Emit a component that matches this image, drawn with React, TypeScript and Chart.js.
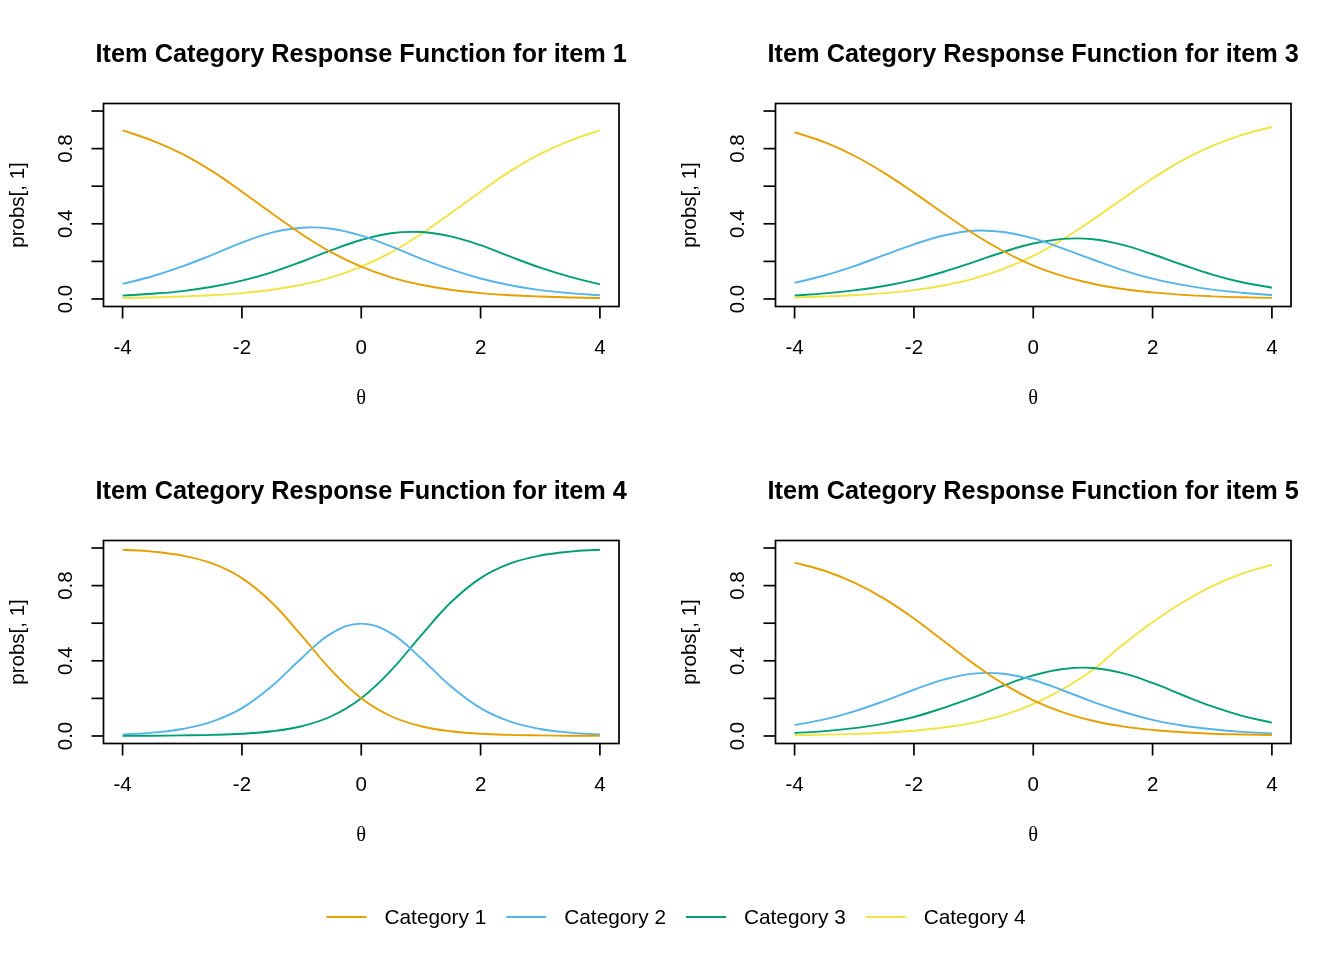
import React, { useEffect, useRef } from "react";
import { Chart, registerables } from "chart.js";

Chart.register(...registerables);

// ---------- data ----------
const theta = [-4, -3.5, -3, -2.5, -2, -1.5, -1, -0.5, 0, 0.5, 1, 1.5, 2, 2.5, 3, 3.5, 4];

const item1Cat1 = [0.897, 0.843, 0.772, 0.68, 0.571, 0.456, 0.345, 0.248, 0.172, 0.115, 0.076, 0.049, 0.031, 0.02, 0.013, 0.008, 0.005];
const item1Cat2 = [0.08, 0.121, 0.173, 0.235, 0.3, 0.353, 0.379, 0.374, 0.337, 0.28, 0.215, 0.157, 0.109, 0.073, 0.047, 0.031, 0.02];
const item1Cat3 = [0.018, 0.028, 0.042, 0.065, 0.098, 0.142, 0.198, 0.26, 0.314, 0.35, 0.356, 0.333, 0.286, 0.225, 0.167, 0.118, 0.078];
const item1Cat4 = [0.005, 0.008, 0.013, 0.02, 0.031, 0.049, 0.076, 0.115, 0.172, 0.248, 0.345, 0.456, 0.571, 0.68, 0.772, 0.843, 0.897];

const item3Cat1 = [0.887, 0.834, 0.762, 0.671, 0.566, 0.455, 0.347, 0.254, 0.178, 0.122, 0.081, 0.053, 0.035, 0.022, 0.014, 0.009, 0.006];
const item3Cat2 = [0.086, 0.125, 0.175, 0.233, 0.291, 0.338, 0.363, 0.356, 0.322, 0.268, 0.21, 0.154, 0.108, 0.075, 0.05, 0.033, 0.021];
const item3Cat3 = [0.019, 0.03, 0.046, 0.069, 0.102, 0.145, 0.196, 0.25, 0.295, 0.32, 0.318, 0.288, 0.238, 0.182, 0.13, 0.089, 0.06];
const item3Cat4 = [0.008, 0.013, 0.02, 0.031, 0.047, 0.072, 0.108, 0.16, 0.229, 0.318, 0.422, 0.533, 0.641, 0.737, 0.814, 0.873, 0.915];

const item4Cat1 = [0.991, 0.981, 0.96, 0.918, 0.84, 0.71, 0.534, 0.349, 0.201, 0.105, 0.052, 0.025, 0.012, 0.006, 0.003, 0.001, 0.001];
const item4Cat2 = [0.008, 0.018, 0.037, 0.076, 0.148, 0.265, 0.414, 0.546, 0.598, 0.546, 0.414, 0.265, 0.148, 0.076, 0.037, 0.018, 0.008];
const item4Cat3 = [0.001, 0.001, 0.003, 0.006, 0.012, 0.025, 0.052, 0.105, 0.201, 0.349, 0.534, 0.71, 0.84, 0.918, 0.96, 0.981, 0.991];

const item5Cat1 = [0.922, 0.879, 0.816, 0.731, 0.625, 0.505, 0.385, 0.277, 0.19, 0.126, 0.081, 0.051, 0.032, 0.02, 0.012, 0.008, 0.005];
const item5Cat2 = [0.058, 0.088, 0.131, 0.186, 0.246, 0.3, 0.332, 0.331, 0.298, 0.242, 0.182, 0.129, 0.086, 0.056, 0.036, 0.022, 0.014];
const item5Cat3 = [0.016, 0.026, 0.042, 0.066, 0.101, 0.15, 0.205, 0.268, 0.322, 0.356, 0.362, 0.334, 0.282, 0.218, 0.157, 0.107, 0.071];
const item5Cat4 = [0.004, 0.007, 0.011, 0.017, 0.028, 0.045, 0.071, 0.111, 0.17, 0.25, 0.352, 0.485, 0.605, 0.71, 0.797, 0.864, 0.911];

const panelTitles = [
  "Item Category Response Function for item 1",
  "Item Category Response Function for item 3",
  "Item Category Response Function for item 4",
  "Item Category Response Function for item 5",
];
const panelSeries = [
  [item1Cat1, item1Cat2, item1Cat3, item1Cat4],
  [item3Cat1, item3Cat2, item3Cat3, item3Cat4],
  [item4Cat1, item4Cat2, item4Cat3],
  [item5Cat1, item5Cat2, item5Cat3, item5Cat4],
];

const categoryLabels = ["Category 1", "Category 2", "Category 3", "Category 4"];
const categoryColors = ["#E69F00", "#56B4E9", "#009E73", "#F0E442"];

const xTicks = [-4, -2, 0, 2, 4];
const xTickLabels = ["-4", "-2", "0", "2", "4"];
const yTicks = [0, 0.2, 0.4, 0.6, 0.8, 1.0];
const yTickLabels = ["0.0", "", "0.4", "", "0.8", ""];
const xAxisTitle = "θ";
const yAxisTitle = "probs[, 1]";

// ---------- layout ----------
const PANEL_W = 672;
const PANEL_H = 437;
const SANS = '"Liberation Sans", Arial, Helvetica, sans-serif';
const SERIF = '"Liberation Serif", "DejaVu Serif", "Times New Roman", serif';

const rAxesPlugin = {
  id: "rAxes",
  afterDraw(chart: any, _args: any, opts: any) {
    const { ctx, chartArea: a, scales } = chart;
    const xs = scales.x;
    const ys = scales.y;
    ctx.save();
    ctx.strokeStyle = "#000";
    ctx.fillStyle = "#000";
    ctx.lineWidth = 1.7;
    // box
    ctx.strokeRect(a.left, a.top, a.right - a.left, a.bottom - a.top);
    // x axis ticks
    ctx.font = `20.5px ${SANS}`;
    ctx.textAlign = "center";
    ctx.textBaseline = "middle";
    xTicks.forEach((v, i) => {
      const px = xs.getPixelForValue(v);
      ctx.beginPath();
      ctx.moveTo(px, a.bottom);
      ctx.lineTo(px, a.bottom + 12);
      ctx.stroke();
      ctx.fillText(xTickLabels[i], px, a.bottom + 42);
    });
    // y axis ticks
    yTicks.forEach((v, i) => {
      const py = ys.getPixelForValue(v);
      ctx.beginPath();
      ctx.moveTo(a.left, py);
      ctx.lineTo(a.left - 12, py);
      ctx.stroke();
      if (yTickLabels[i]) {
        ctx.save();
        ctx.translate(a.left - 37, py);
        ctx.rotate(-Math.PI / 2);
        ctx.fillText(yTickLabels[i], 0, 0);
        ctx.restore();
      }
    });
    const cx = (a.left + a.right) / 2;
    const cy = (a.top + a.bottom) / 2;
    // title
    ctx.font = `bold 25.3px ${SANS}`;
    ctx.fillText(opts.title || "", cx, 55.5);
    // x title
    ctx.font = `20.5px ${SERIF}`;
    ctx.fillText(xAxisTitle, cx, a.bottom + 92);
    // y title
    ctx.font = `20.5px ${SANS}`;
    ctx.save();
    ctx.translate(18, cy);
    ctx.rotate(-Math.PI / 2);
    ctx.fillText(yAxisTitle, 0, 0);
    ctx.restore();
    ctx.restore();
  },
};

const legendPlugin = {
  id: "rLegend",
  afterDraw(chart: any) {
    const { ctx } = chart;
    const ds = chart.data.datasets;
    ctx.save();
    ctx.font = `20.8px ${SANS}`;
    ctx.textBaseline = "middle";
    ctx.textAlign = "left";
    const lineLen = 40;
    const gapText = 18;
    const gapItem = 20;
    const widths = ds.map((d: any) => ctx.measureText(d.label).width);
    const total =
      widths.reduce((s: number, w: number) => s + lineLen + gapText + w, 0) + gapItem * (ds.length - 1);
    let x = 676 - total / 2;
    const y = 47;
    ds.forEach((d: any, i: number) => {
      ctx.strokeStyle = d.borderColor;
      ctx.lineWidth = 2;
      ctx.beginPath();
      ctx.moveTo(x, y);
      ctx.lineTo(x + lineLen, y);
      ctx.stroke();
      ctx.fillStyle = "#000";
      ctx.fillText(d.label, x + lineLen + gapText, y + 1);
      x += lineLen + gapText + widths[i] + gapItem;
    });
    ctx.restore();
  },
};

function Panel({ index }: { index: number }) {
  const ref = useRef<HTMLCanvasElement | null>(null);
  useEffect(() => {
    if (!ref.current) return;
    const series = panelSeries[index];
    const chart = new Chart(ref.current, {
      type: "line",
      data: {
        datasets: series.map((vals, k) => ({
          label: categoryLabels[k],
          data: theta.map((t, j) => ({ x: t, y: vals[j] })),
          borderColor: categoryColors[k],
          backgroundColor: categoryColors[k],
          borderWidth: 1.9,
          pointRadius: 0,
          fill: false,
          tension: 0.4,
        })),
      },
      options: {
        responsive: false,
        animation: false,
        devicePixelRatio: 1,
        layout: { padding: { left: 103.5, right: 53, top: 103.5, bottom: 130.5 } },
        scales: {
          x: { type: "linear", min: -4.32, max: 4.32, display: false },
          y: { type: "linear", min: -0.04, max: 1.04, display: false },
        },
        plugins: {
          legend: { display: false },
          title: { display: false },
          tooltip: { enabled: false },
          rAxes: { title: panelTitles[index] },
        } as any,
      },
      plugins: [rAxesPlugin],
    });
    return () => chart.destroy();
  }, [index]);
  const col = index % 2;
  const row = Math.floor(index / 2);
  return (
    <canvas
      ref={ref}
      width={PANEL_W}
      height={PANEL_H}
      style={{ position: "absolute", left: col * PANEL_W, top: row * PANEL_H, width: PANEL_W, height: PANEL_H }}
    />
  );
}

function Legend() {
  const ref = useRef<HTMLCanvasElement | null>(null);
  useEffect(() => {
    if (!ref.current) return;
    const chart = new Chart(ref.current, {
      type: "line",
      data: {
        datasets: categoryLabels.map((l, k) => ({
          label: l,
          data: [],
          borderColor: categoryColors[k],
          backgroundColor: categoryColors[k],
        })),
      },
      options: {
        responsive: false,
        animation: false,
        devicePixelRatio: 1,
        scales: { x: { display: false }, y: { display: false } },
        plugins: { legend: { display: false }, tooltip: { enabled: false } },
      },
      plugins: [legendPlugin],
    });
    return () => chart.destroy();
  }, []);
  return (
    <canvas
      ref={ref}
      width={1344}
      height={90}
      style={{ position: "absolute", left: 0, top: 870, width: 1344, height: 90 }}
    />
  );
}

export default function App() {
  return (
    <div style={{ position: "absolute", left: 0, top: 0, width: 1344, height: 960, background: "#fff" }}>
      {[0, 1, 2, 3].map((i) => (
        <Panel key={i} index={i} />
      ))}
      <Legend />
    </div>
  );
}
